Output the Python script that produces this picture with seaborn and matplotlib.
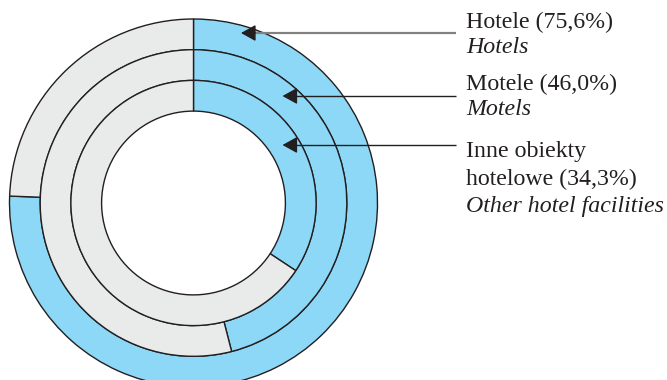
import matplotlib
matplotlib.use('Agg')
import matplotlib.pyplot as plt
import seaborn as sns

# share of each type (percent), outer ring to inner ring
categories = ['Hotele', 'Motele', 'Inne obiekty hotelowe']
shares = [75.6, 46.0, 34.3]
labels_pl = [['Hotele (75,6%)'], ['Motele (46,0%)'], ['Inne obiekty', 'hotelowe (34,3%)']]
labels_en = ['Hotels', 'Motels', 'Other hotel facilities']

sns.set_style('white')
plt.rcParams['font.family'] = ['Liberation Serif', 'DejaVu Serif']

blue = '#8dd8f7'
grey = '#e9eaea'
edge = '#231f20'

W, H = 667, 380
fig = plt.figure(figsize=(W / 100, H / 100), dpi=100)
ax = fig.add_axes([0, 0, 1, 1])

center = (193.5, H - 203)
outer_r = 184
ring_w = 30.7

for i, share in enumerate(shares):
    ax.pie([share, 100 - share], radius=outer_r - i * ring_w,
           colors=[blue, grey], startangle=90, counterclock=False,
           center=center,
           wedgeprops=dict(width=ring_w, edgecolor=edge, linewidth=1.0))

ax.set_xlim(0, W)
ax.set_ylim(0, H)
ax.set_aspect('auto')
ax.axis('off')

# arrows pointing into each ring (tip x, y in pixels)
arrow_tips = [(241, 33), (282.5, 96), (282.5, 145)]
line_colors = ['#808080', edge, edge]
line_widths = [1.6, 1.0, 1.0]
line_end = 456
for (tx, ty), col, lw in zip(arrow_tips, line_colors, line_widths):
    ax.plot([tx + 8, line_end], [H - ty, H - ty], color=col, lw=lw,
            solid_capstyle='butt')
    ax.annotate('', xy=(tx, H - ty), xytext=(tx + 14, H - ty),
                arrowprops=dict(arrowstyle='-|>,head_length=0.9,head_width=0.5',
                                color=edge, lw=1.0, shrinkA=0, shrinkB=0))

# text block baselines (pixels from top)
fs = 17.2
baselines = [[28], [90], [157, 185]]
en_baselines = [53, 115, 212]
tx = 466
for lines, bls, en, eb in zip(labels_pl, baselines, labels_en, en_baselines):
    for line, b in zip(lines, bls):
        ax.text(tx, H - b, line, fontsize=fs, va='baseline', ha='left', color='#231f20')
    ax.text(tx, H - eb, en, fontsize=fs, va='baseline', ha='left',
            style='italic', color='#231f20')

fig.savefig('out.png', dpi=100)
